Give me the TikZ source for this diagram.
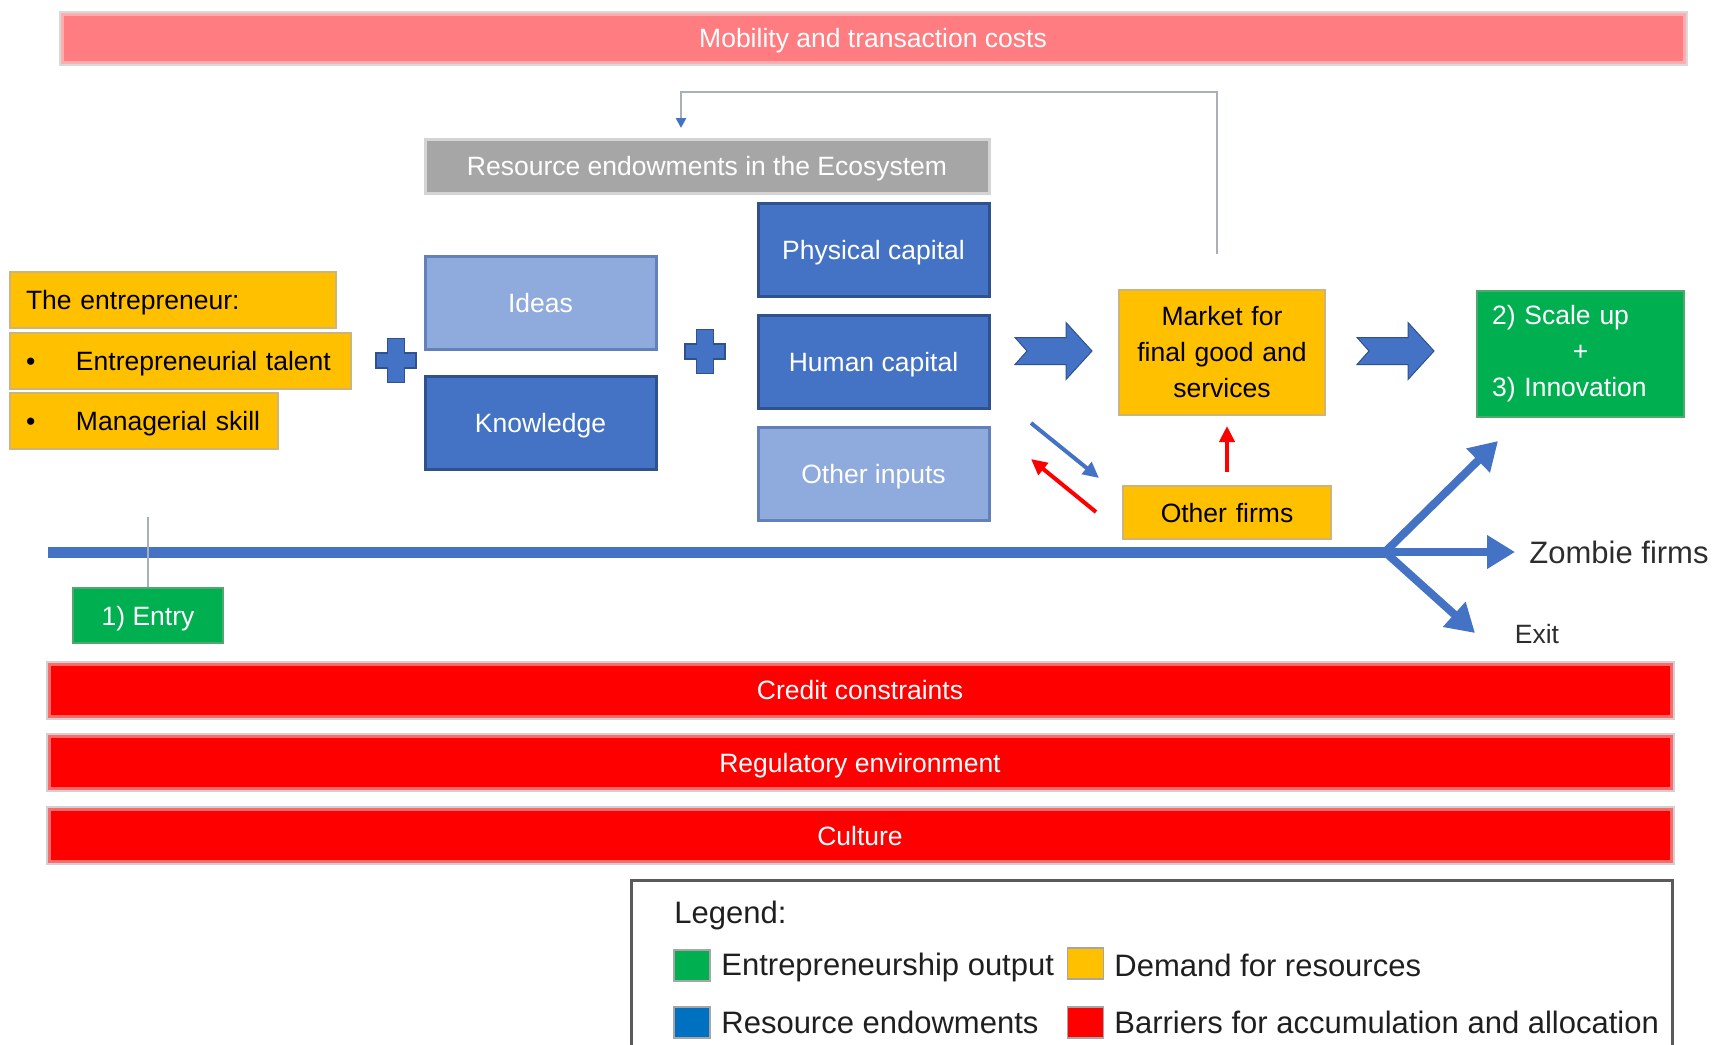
\documentclass[tikz,border=0pt]{standalone}
\usepackage{fontspec}
\setmainfont{Liberation Sans}
\usetikzlibrary{arrows.meta}

\definecolor{pinkbar}{RGB}{255,124,128}
\definecolor{pinkedge}{RGB}{255,172,174}
\definecolor{greybox}{RGB}{166,166,166}
\definecolor{greyedge}{RGB}{212,212,212}
\definecolor{resblue}{RGB}{68,114,196}
\definecolor{resedge}{RGB}{47,82,143}
\definecolor{lightres}{RGB}{143,170,220}
\definecolor{lightedge}{RGB}{98,128,185}
\definecolor{demand}{RGB}{255,192,0}
\definecolor{demandedge}{RGB}{205,180,125}
\definecolor{output}{RGB}{0,176,80}
\definecolor{outedge}{RGB}{80,168,110}
\definecolor{barrier}{RGB}{255,0,0}
\definecolor{barrieredge}{RGB}{255,105,105}
\definecolor{legblue}{RGB}{0,112,192}
\definecolor{linegrey}{RGB}{168,175,185}
\definecolor{textgrey}{RGB}{45,45,45}
\definecolor{legedge}{RGB}{90,90,90}

\newcommand{\boxfont}{\fontsize{26.5pt}{36pt}\selectfont}
\newcommand{\legfont}{\fontsize{31pt}{37pt}\selectfont}
\newcommand{\bulletbox}{\makebox[50pt][l]{•}}

\tikzset{
  plainbox/.style={rectangle, inner sep=0pt, font=\boxfont, align=center, text depth=0pt},
  costbar/.style={plainbox, fill=pinkbar, draw=pinkedge, line width=3pt, text=white,
    minimum width=1622pt, minimum height=48pt, preaction={draw=black!15, line width=7pt}},
  ecobox/.style={plainbox, fill=greybox, draw=greyedge, line width=3pt, text=white,
    minimum width=564pt, minimum height=54pt},
  darkbox/.style={plainbox, fill=resblue, draw=resedge, line width=3pt, text=white,
    minimum width=231pt, minimum height=93pt},
  lightbox/.style={darkbox, fill=lightres, draw=lightedge},
  demandbox/.style={plainbox, fill=demand, draw=demandedge, line width=2pt, text=black,
    inner xsep=16pt, align=left, minimum height=56pt},
  outbox/.style={plainbox, fill=output, draw=outedge, line width=2pt, text=white},
  barrierbar/.style={plainbox, fill=barrier, draw=barrieredge, line width=3pt, text=white,
    minimum width=1622pt, minimum height=52pt, preaction={draw=black!18, line width=7pt}},
  blockarrow/.style={fill=resblue, draw=resedge, line width=1pt},
  plussign/.style={fill=resblue, draw=resedge, line width=1.5pt},
  timeline/.style={resblue, line width=11pt},
  branch/.style={resblue, line width=8pt, line cap=round, -{Triangle[length=28pt,width=32pt]}},
  thinarrow/.style={line width=4pt, -{Triangle[length=16pt,width=15pt]}},
  fbline/.style={linegrey, line width=2.5pt, -{Triangle[length=10pt,width=10pt,color=resblue]}},
  legsq/.style={rectangle, inner sep=0pt, minimum width=36pt, minimum height=31pt, draw=black!35, line width=1.5pt},
  legtext/.style={font=\legfont, text=black!88, anchor=west, inner sep=0pt}
}

\begin{document}
\begin{tikzpicture}[x=1pt, y=-1pt, thick]
\useasboundingbox (0,0) rectangle (1713,1044);
\clip (0,0) rectangle (1713,1044);

\node[costbar] (mobility) at (873,38) {Mobility and transaction costs};
\node[ecobox] (resend) at (707,166) {Resource endowments in the Ecosystem};

\node[lightbox] (ideas) at (540.5,302.5) {Ideas};
\node[darkbox] (knowl) at (540.5,423) {Knowledge};
\node[darkbox] (phys) at (873.5,249.5) {Physical capital};
\node[darkbox] (human) at (873.5,362) {Human capital};
\node[lightbox] (other) at (873.5,473.5) {Other inputs};

% the entrepreneur
\node[demandbox, text width=294pt] (entre) at (173,300) {The entrepreneur:};
\node[demandbox, text width=309pt] (talent) at (180.5,360.5) {\bulletbox Entrepreneurial talent};
\node[demandbox, text width=236pt] (skill) at (144,421) {\bulletbox Managerial skill};

\node[demandbox, align=center, text depth=, text width=174pt, minimum height=125pt] (market) at (1222,352.5) {Market for\\final good and\\services};
\node[demandbox, align=center, text width=176pt, minimum height=53pt] (others) at (1227,512.5) {Other firms};
\node[outbox, align=left, text depth=, inner xsep=15pt, text width=177pt, minimum height=126pt] (scaleup) at (1580.5,354) {2) Scale up\\\makebox[177pt]{+}\\3) Innovation};
\node[outbox, minimum width=150pt, minimum height=55pt] (entry) at (148,615.5) {1) Entry};

\node[barrierbar] (credit) at (860,690) {Credit constraints};
\node[barrierbar] (regul) at (860,762.5) {Regulatory environment};
\node[barrierbar] (culture) at (860,835.5) {Culture};

\node[font=\legfont, text=textgrey, inner sep=2pt] (zombie) at (1619,552) {Zombie firms};
\node[font=\boxfont, text=textgrey] (exit) at (1537,634) {Exit};

% plus signs
\begin{scope}[shift={(396,360.5)}]
\draw[plussign] (-8.5,-22) -- (8.5,-22) -- (8.5,-7.5) -- (20,-7.5) -- (20,7.5) -- (8.5,7.5) -- (8.5,22)
  -- (-8.5,22) -- (-8.5,7.5) -- (-20,7.5) -- (-20,-7.5) -- (-8.5,-7.5) -- cycle;
\end{scope}
\begin{scope}[shift={(705,351.5)}]
\draw[plussign] (-8.5,-22) -- (8.5,-22) -- (8.5,-7.5) -- (20,-7.5) -- (20,7.5) -- (8.5,7.5) -- (8.5,22)
  -- (-8.5,22) -- (-8.5,7.5) -- (-20,7.5) -- (-20,-7.5) -- (-8.5,-7.5) -- cycle;
\end{scope}

% block arrows
\begin{scope}[shift={(1015,351)}]
\draw[blockarrow] (0,-13.5) -- (51,-13.5) -- (51,-28.5) -- (77,0) -- (51,28.5) -- (51,13.5) -- (0,13.5) -- (12,0) -- cycle;
\end{scope}
\begin{scope}[shift={(1357,351)}]
\draw[blockarrow] (0,-13.5) -- (51,-13.5) -- (51,-28.5) -- (77,0) -- (51,28.5) -- (51,13.5) -- (0,13.5) -- (12,0) -- cycle;
\end{scope}

% feedback to the ecosystem
\coordinate (fbcorner) at (681,92);
\draw[fbline, shorten <=35pt, shorten >=9.5pt] ([xshift=-5pt]market.north) |- (fbcorner) -- ([xshift=-26pt]resend.north);

% flows around other firms
\coordinate (bluefrom) at (1031,423);
\coordinate (blueto) at (1099,478);
\coordinate (redfrom) at (1096,512);
\coordinate (redto) at (1031,459);
\draw[thinarrow, resblue] (bluefrom) -- (blueto);
\draw[thinarrow, barrier] (redfrom) -- (redto);
\draw[thinarrow, barrier, shorten <=13pt, shorten >=10pt] (others.north) -- (others.north |- market.south);

% firm life line
\coordinate (tstart) at (48,552);
\coordinate (fork) at (1385,552);
\coordinate (upend) at (1498,441);
\coordinate (exitend) at (1475,633);
\coordinate (entrytop) at (148,517);
\draw[timeline] (tstart) -- (fork);
\draw[branch] (fork) -- (upend);
\draw[branch, shorten >=12pt] (fork) -- (zombie.west);
\draw[branch] (fork) -- (exitend);
\draw[linegrey, line width=2pt] (entrytop) -- (entry.north);

% legend
\draw[legedge, line width=3pt] (631,880) rectangle (1672,1070);
\node[legtext] (legtitle) at (674,915) {Legend:};
\node[legsq, fill=output] (sqout) at (692,965.5) {};
\node[legtext] (txtout) at (721,967) {Entrepreneurship output};
\node[legsq, fill=demand] (sqdem) at (1085.5,963.5) {};
\node[legtext] (txtdem) at (1114,965) {Demand for resources};
\node[legsq, fill=legblue] (sqres) at (692,1022.5) {};
\node[legtext] (txtres) at (721,1022.5) {Resource endowments};
\node[legsq, fill=barrier] (sqbar) at (1085.5,1022.5) {};
\node[legtext] (txtbar) at (1114,1022.5) {Barriers for accumulation and allocation};
\end{tikzpicture}
\end{document}
